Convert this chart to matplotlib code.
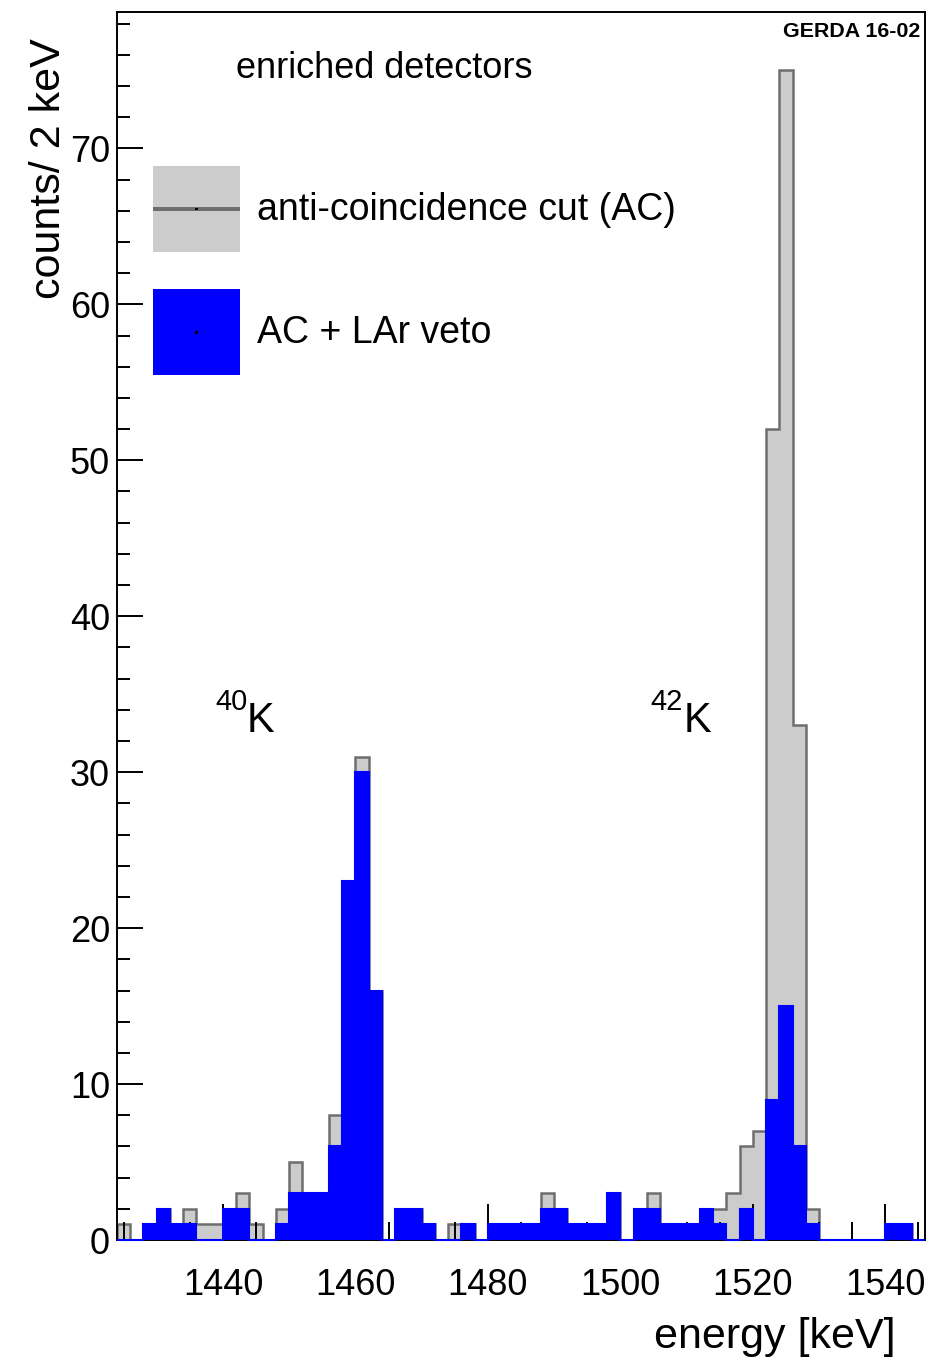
import numpy as np
import matplotlib
matplotlib.use("Agg")
import matplotlib.pyplot as plt
from matplotlib.patches import Patch, Rectangle
from matplotlib.legend_handler import HandlerPatch
from matplotlib.ticker import MultipleLocator

plt.rcParams['font.family'] = ['Liberation Sans', 'DejaVu Sans']

# energy binning, 2 keV bins starting at 1424 keV
bin_start = 1424
bin_width = 2
n_bins = 61

# counts per bin, anti-coincidence cut (AC)
counts_ac = [1, 0, 1, 2, 1, 2, 1, 1, 2, 3,
             1, 0, 2, 5, 3, 3, 8, 23, 31, 16,
             0, 2, 2, 1, 0, 1, 1, 0, 1, 1,
             1, 1, 3, 2, 1, 1, 1, 3, 0, 2,
             3, 1, 1, 1, 2, 2, 3, 6, 7, 52,
             75, 33, 2, 0, 0, 0, 0, 0, 1, 1,
             0]
# counts per bin, AC + LAr veto
counts_veto = [0, 0, 1, 2, 1, 1, 0, 0, 2, 2,
               0, 0, 1, 3, 3, 3, 6, 23, 30, 16,
               0, 2, 2, 1, 0, 0, 1, 0, 1, 1,
               1, 1, 2, 2, 1, 1, 1, 3, 0, 2,
               2, 1, 1, 1, 2, 1, 0, 2, 0, 9,
               15, 6, 1, 0, 0, 0, 0, 0, 1, 1,
               0]

edges = bin_start + bin_width * np.arange(n_bins + 1)

gray_fill = "#cccccc"
gray_line = "#6e6e6e"
blue = "#0000ff"

fig = plt.figure(figsize=(9.51, 13.61), dpi=100)
ax = fig.add_axes([0.1230, 0.0889, 0.8497, 0.9023])

# gray histogram below the ticks, blue one above
ax.stairs(counts_ac, edges, fill=True, color=gray_fill, zorder=1)
ax.stairs(counts_ac, edges, baseline=0, color=gray_line, linewidth=1.8, zorder=1.2)
ax.stairs(counts_veto, edges, fill=True, color=blue, zorder=3)
ax.stairs(counts_veto, edges, baseline=0, color=blue, linewidth=1.5, zorder=3.1, clip_on=False)

ax.set_xlim(edges[0], edges[-1])
ax.set_ylim(0, max(counts_ac) * 1.05)

for s in ax.spines.values():
    s.set_linewidth(1.4)

ax.xaxis.set_major_locator(MultipleLocator(20))
ax.xaxis.set_minor_locator(MultipleLocator(5))
ax.yaxis.set_major_locator(MultipleLocator(10))
ax.yaxis.set_minor_locator(MultipleLocator(2))
ax.tick_params(axis='both', which='both', direction='in', top=False, right=False, width=1.4,
               labelsize=26)
ax.tick_params(axis='x', which='major', length=26, pad=20)
ax.tick_params(axis='x', which='minor', length=13)
ax.tick_params(axis='y', which='major', length=19, pad=5)
ax.tick_params(axis='y', which='minor', length=9.5)

ax.set_xlabel("energy [keV]", fontsize=31, loc='right')
ax.xaxis.set_label_coords(0.963, -0.063)
ax.set_ylabel("counts/ 2 keV", fontsize=31, loc='top')
ax.yaxis.set_label_coords(-0.059, 0.979)

ax.text(0.147, 0.954, "enriched detectors", transform=ax.transAxes, fontsize=26,
        ha='left', va='center')
ax.text(0.9938, 0.9837, "GERDA 16-02", transform=ax.transAxes, fontsize=15.4,
        fontweight='bold', ha='right', va='center')

# isotope labels
ax.text(0.1213, 0.4316, "40", transform=ax.transAxes, fontsize=21, ha='left', va='baseline')
ax.text(0.1609, 0.4139, "K", transform=ax.transAxes, fontsize=30, ha='left', va='baseline')
ax.text(0.6597, 0.4316, "42", transform=ax.transAxes, fontsize=21, ha='left', va='baseline')
ax.text(0.7017, 0.4139, "K", transform=ax.transAxes, fontsize=30, ha='left', va='baseline')


def centered_bar(thick):
    # thin bar through the middle of the legend box (line / marker of the entry)
    def make(legend, orig_handle, xdescent, ydescent, width, height, fontsize):
        return Rectangle((-xdescent, -ydescent + height / 2 - thick / 2), width, thick)
    return make


def centered_dot(legend, orig_handle, xdescent, ydescent, width, height, fontsize):
    return Rectangle((-xdescent + width / 2 - 1, -ydescent + height / 2 - 1), 2, 2)


ac_line = Patch(facecolor=gray_line, edgecolor='none')
ac_dot = Patch(facecolor='black', edgecolor='none')
veto_dot = Patch(facecolor='black', edgecolor='none')
h_ac = (Patch(facecolor=gray_fill, edgecolor='none'), ac_line, ac_dot)
h_veto = (Patch(facecolor=blue, edgecolor='none'), veto_dot)
ax.legend([h_ac, h_veto], ["anti-coincidence cut (AC)", "AC + LAr veto"],
          handler_map={ac_line: HandlerPatch(patch_func=centered_bar(2.5)),
                       ac_dot: HandlerPatch(patch_func=centered_dot),
                       veto_dot: HandlerPatch(patch_func=centered_dot)},
          loc='upper left', bbox_to_anchor=(0.04455, 0.8746), frameon=False,
          fontsize=27, handlelength=2.32, handleheight=3.15, handletextpad=0.45,
          labelspacing=1.0, borderpad=0, borderaxespad=0)

fig.savefig("out.png", dpi=100)
